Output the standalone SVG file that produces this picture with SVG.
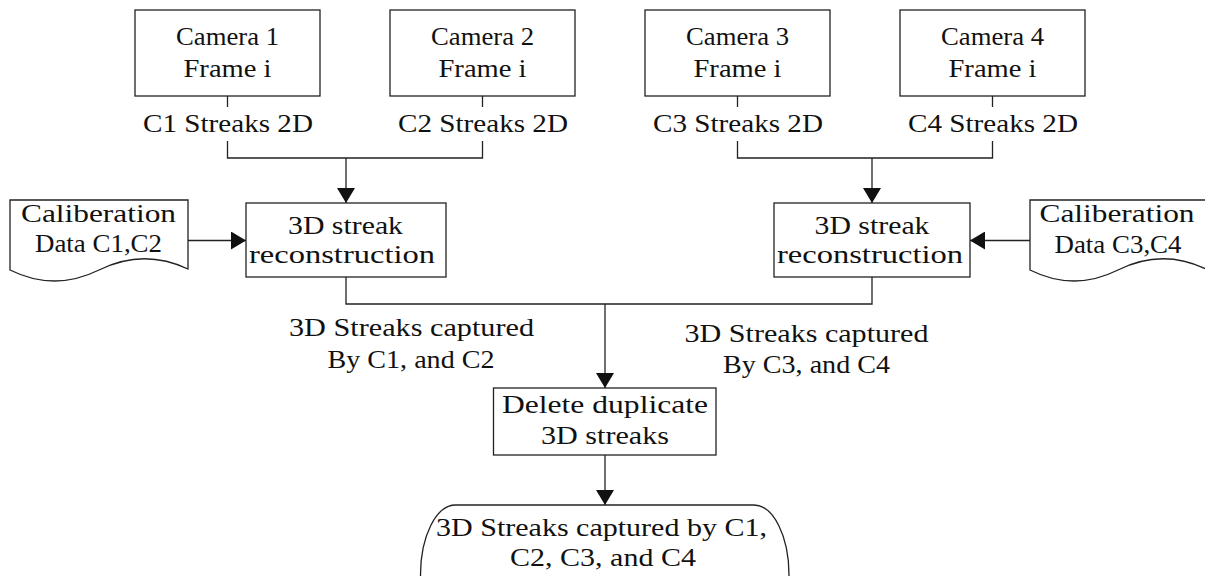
<svg xmlns="http://www.w3.org/2000/svg" width="1205" height="576" viewBox="0 0 1205 576">
<defs>
<style>
.box{fill:#fff;stroke:#222;stroke-width:1.3}
.ln{fill:none;stroke:#222;stroke-width:1.3}
.t{font-family:"Liberation Serif","DejaVu Serif",serif;font-size:26px;fill:#111;text-anchor:middle}
</style>
<marker id="ah" markerUnits="userSpaceOnUse" markerWidth="16" markerHeight="18" refX="15" refY="9" orient="auto">
<path d="M0,0 L15,9 L0,18 Z" fill="#111"/>
</marker>
</defs>
<rect width="1205" height="576" fill="#fff"/>

<g id="connectors">
<path class="ln" d="M227.5,96 V107"/>
<path class="ln" d="M482.5,96 V107"/>
<path class="ln" d="M227.5,141 V158 H482.5 V141"/>
<path class="ln" d="M346,158 V203" marker-end="url(#ah)"/>
<path class="ln" d="M737.5,96 V107"/>
<path class="ln" d="M992.5,96 V107"/>
<path class="ln" d="M737.5,141 V158 H992.5 V141"/>
<path class="ln" d="M872,158 V203" marker-end="url(#ah)"/>
<path class="ln" d="M188,240.5 H246" marker-end="url(#ah)"/>
<path class="ln" d="M1030,240.5 H970" marker-end="url(#ah)"/>
<path class="ln" d="M346,277 V304 H872 V277"/>
<path class="ln" d="M605,304 V388" marker-end="url(#ah)"/>
<path class="ln" d="M605,455 V505" marker-end="url(#ah)"/>
</g>

<g id="cam1">
<rect class="box" x="135" y="10" width="185" height="86"/>
<text class="t" x="227.5" y="45" textLength="103" lengthAdjust="spacingAndGlyphs">Camera 1</text>
<text class="t" x="227.5" y="76.5" textLength="88" lengthAdjust="spacingAndGlyphs">Frame i</text>
</g>
<g id="cam2">
<rect class="box" x="390" y="10" width="185" height="86"/>
<text class="t" x="482.5" y="45" textLength="103" lengthAdjust="spacingAndGlyphs">Camera 2</text>
<text class="t" x="482.5" y="76.5" textLength="88" lengthAdjust="spacingAndGlyphs">Frame i</text>
</g>
<g id="cam3">
<rect class="box" x="645" y="10" width="185" height="86"/>
<text class="t" x="737.5" y="45" textLength="103" lengthAdjust="spacingAndGlyphs">Camera 3</text>
<text class="t" x="737.5" y="76.5" textLength="88" lengthAdjust="spacingAndGlyphs">Frame i</text>
</g>
<g id="cam4">
<rect class="box" x="900" y="10" width="185" height="86"/>
<text class="t" x="992.5" y="45" textLength="103" lengthAdjust="spacingAndGlyphs">Camera 4</text>
<text class="t" x="992.5" y="76.5" textLength="88" lengthAdjust="spacingAndGlyphs">Frame i</text>
</g>

<g id="labels2d">
<text class="t" x="228" y="131.5" textLength="170" lengthAdjust="spacingAndGlyphs">C1 Streaks 2D</text>
<text class="t" x="483" y="131.5" textLength="170" lengthAdjust="spacingAndGlyphs">C2 Streaks 2D</text>
<text class="t" x="738" y="131.5" textLength="170" lengthAdjust="spacingAndGlyphs">C3 Streaks 2D</text>
<text class="t" x="993" y="131.5" textLength="170" lengthAdjust="spacingAndGlyphs">C4 Streaks 2D</text>
</g>

<g id="calib1">
<path class="box" d="M10,200 H188 V269 Q143.5,248 99,270 T10,270 Z"/>
<text class="t" x="98.5" y="221.5" textLength="155" lengthAdjust="spacingAndGlyphs">Caliberation</text>
<text class="t" x="98.5" y="252" textLength="127" lengthAdjust="spacingAndGlyphs">Data C1,C2</text>
</g>
<g id="calib2">
<path class="box" d="M1030,200 H1206 V269 Q1162,248 1118,270 T1030,270 Z"/>
<text class="t" x="1117" y="221.5" textLength="155" lengthAdjust="spacingAndGlyphs">Caliberation</text>
<text class="t" x="1118" y="253" textLength="127" lengthAdjust="spacingAndGlyphs">Data C3,C4</text>
</g>

<g id="recon1">
<rect class="box" x="246" y="203" width="200" height="74"/>
<text class="t" x="345.5" y="233.5" textLength="115" lengthAdjust="spacingAndGlyphs">3D streak</text>
<text class="t" x="342" y="263" textLength="186" lengthAdjust="spacingAndGlyphs">reconstruction</text>
</g>
<g id="recon2">
<rect class="box" x="774" y="203" width="196" height="74"/>
<text class="t" x="872" y="233.5" textLength="115" lengthAdjust="spacingAndGlyphs">3D streak</text>
<text class="t" x="870" y="263" textLength="186" lengthAdjust="spacingAndGlyphs">reconstruction</text>
</g>

<g id="labels3d">
<text class="t" x="411.5" y="336" textLength="245" lengthAdjust="spacingAndGlyphs">3D Streaks captured</text>
<text class="t" x="411" y="367.5" textLength="167" lengthAdjust="spacingAndGlyphs">By C1, and C2</text>
<text class="t" x="806.5" y="341.5" textLength="244" lengthAdjust="spacingAndGlyphs">3D Streaks captured</text>
<text class="t" x="806.5" y="373" textLength="167" lengthAdjust="spacingAndGlyphs">By C3, and C4</text>
</g>

<g id="delete">
<rect class="box" x="493.5" y="388" width="222.5" height="67"/>
<text class="t" x="605" y="413" textLength="206" lengthAdjust="spacingAndGlyphs">Delete duplicate</text>
<text class="t" x="605" y="444" textLength="128" lengthAdjust="spacingAndGlyphs">3D streaks</text>
</g>

<g id="result">
<rect class="box" x="420.5" y="505" width="368.5" height="140" rx="35" ry="70"/>
<text class="t" x="601.5" y="536" textLength="331" lengthAdjust="spacingAndGlyphs">3D Streaks captured by C1,</text>
<text class="t" x="603" y="566" textLength="186" lengthAdjust="spacingAndGlyphs">C2, C3, and C4</text>
</g>
</svg>
